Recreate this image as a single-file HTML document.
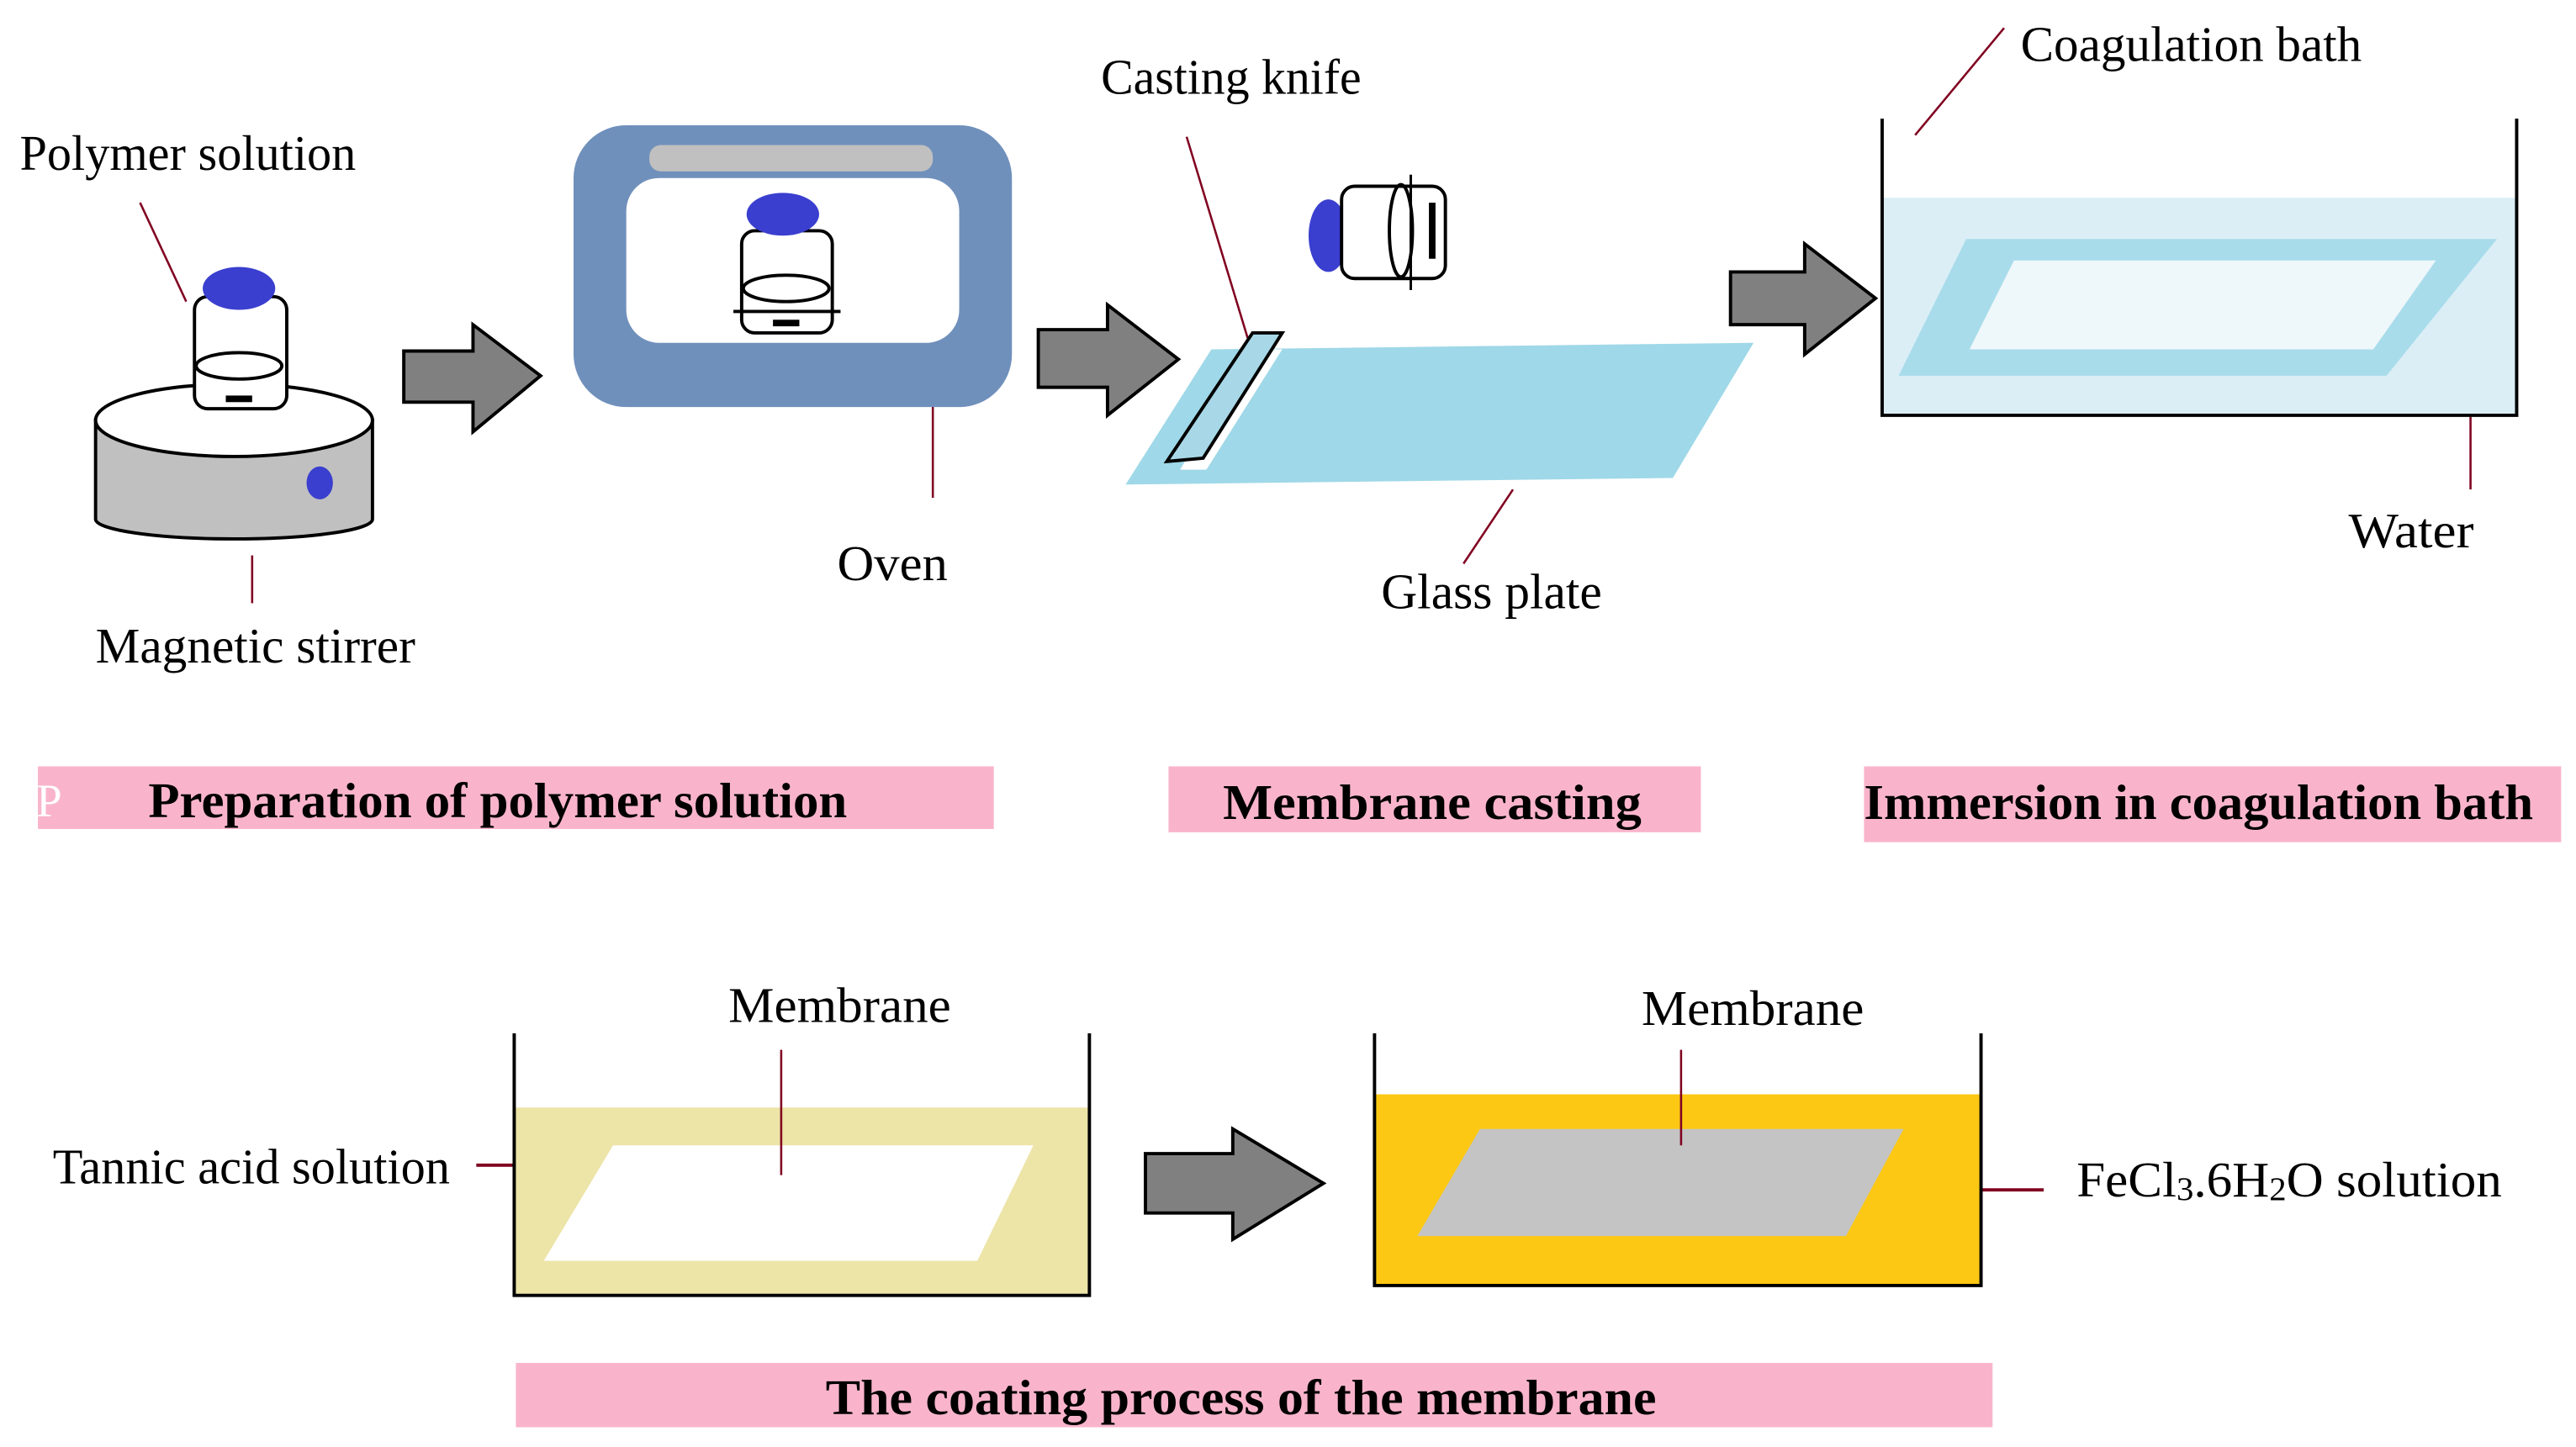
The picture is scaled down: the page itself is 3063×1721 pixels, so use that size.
<!DOCTYPE html>
<html><head><meta charset="utf-8"><style>
html,body{margin:0;padding:0;background:#fff;}
svg{display:block;}
text{font-family:"Liberation Serif",serif;fill:#000;}
.b{font-weight:bold;}
</style></head><body>
<svg width="3063" height="1721" viewBox="0 0 1563 878" preserveAspectRatio="none" xmlns="http://www.w3.org/2000/svg">
<rect width="1563" height="878" fill="#fff"/>
<g font-size="30">
<text x="12" y="103" textLength="204" lengthAdjust="spacingAndGlyphs">Polymer solution</text>
<text x="58" y="402" textLength="194" lengthAdjust="spacingAndGlyphs">Magnetic stirrer</text>
<text x="508" y="352" textLength="67" lengthAdjust="spacingAndGlyphs">Oven</text>
<text x="668" y="57" textLength="158" lengthAdjust="spacingAndGlyphs">Casting knife</text>
<text x="838" y="369" textLength="134" lengthAdjust="spacingAndGlyphs">Glass plate</text>
<text x="1226" y="37" textLength="207" lengthAdjust="spacingAndGlyphs">Coagulation bath</text>
<text x="1425" y="332" textLength="76" lengthAdjust="spacingAndGlyphs">Water</text>
<text x="442" y="620" textLength="135" lengthAdjust="spacingAndGlyphs">Membrane</text>
<text x="996" y="622" textLength="135" lengthAdjust="spacingAndGlyphs">Membrane</text>
<text x="32" y="718" textLength="241" lengthAdjust="spacingAndGlyphs">Tannic acid solution</text>
<text x="1260" y="726" textLength="258" lengthAdjust="spacingAndGlyphs">FeCl<tspan font-size="20" dy="2">3</tspan><tspan dy="-2">.6H</tspan><tspan font-size="20" dy="2">2</tspan><tspan dy="-2">O solution</tspan></text>
</g>
<g stroke="#800020" stroke-width="1.3">
<line x1="85" y1="123" x2="113" y2="183"/>
<line x1="153" y1="337" x2="153" y2="366"/>
<line x1="566" y1="230" x2="566" y2="302"/>
<line x1="720" y1="83" x2="757" y2="205"/>
<line x1="918" y1="297" x2="888" y2="342"/>
<line x1="1216" y1="17" x2="1162" y2="82"/>
<line x1="1499" y1="230" x2="1499" y2="297"/>
<line x1="289" y1="707" x2="331" y2="707" stroke-width="2"/>
<line x1="1183" y1="722" x2="1240" y2="722" stroke-width="2"/>
</g>
<path d="M58 255 L58 315 A84 12 0 0 0 226 315 L226 255 Z" fill="#c0c0c0" stroke="#000" stroke-width="2"/>
<ellipse cx="142" cy="255" rx="84" ry="22" fill="#fff" stroke="#000" stroke-width="2"/>
<ellipse cx="194" cy="293" rx="8" ry="10" fill="#3a3fcf"/>
<rect x="118" y="180" width="56" height="68" rx="8" fill="#fff" stroke="#000" stroke-width="2"/>
<ellipse cx="145" cy="222" rx="26" ry="8" fill="none" stroke="#000" stroke-width="2"/>
<rect x="137" y="240" width="16" height="4" fill="#000"/>
<ellipse cx="145" cy="175" rx="22" ry="13" fill="#3a3fcf"/>
<g fill="#808080" stroke="#000" stroke-width="2">
<path d="M245 213 L287 213 L287 197 L328 228 L287 262 L287 244 L245 244 Z"/>
<path d="M630 200 L672 200 L672 185 L715 218 L672 252 L672 235 L630 235 Z"/>
<path d="M1050 165 L1095 165 L1095 148 L1138 181 L1095 215 L1095 197 L1050 197 Z"/>
<path d="M695 700 L748 700 L748 685 L803 718 L748 752 L748 736 L695 736 Z"/>
</g>
<rect x="348" y="76" width="266" height="171" rx="32" fill="#7090bc"/>
<rect x="380" y="108" width="202" height="100" rx="20" fill="#fff"/>
<rect x="394" y="88" width="172" height="16" rx="7" fill="#c0c0c0"/>
<rect x="450" y="140" width="55" height="62" rx="8" fill="#fff" stroke="#000" stroke-width="2"/>
<ellipse cx="477" cy="175" rx="26" ry="8" fill="none" stroke="#000" stroke-width="2"/>
<line x1="445" y1="189" x2="510" y2="189" stroke="#000" stroke-width="2"/>
<rect x="469" y="194" width="16" height="4" fill="#000"/>
<ellipse cx="475" cy="130" rx="22" ry="13" fill="#3a3fcf"/>
<polygon points="735,212 1064,208 1015,290 683,294" fill="#9fd8e8"/>
<polygon points="760,212 778,212 732,285 716,285" fill="#fff"/>
<polygon points="708,280 760,202 778,202 730,278" fill="#a8d8e8" stroke="#000" stroke-width="2"/>
<ellipse cx="806" cy="143" rx="12" ry="22" fill="#3a3fcf"/>
<rect x="814" y="113" width="63" height="56" rx="8" fill="#fff" stroke="#000" stroke-width="2"/>
<ellipse cx="850" cy="140" rx="7" ry="28" fill="none" stroke="#000" stroke-width="2"/>
<line x1="856" y1="106" x2="856" y2="176" stroke="#000" stroke-width="1.5"/>
<rect x="867" y="123" width="4" height="34" fill="#000"/>
<rect x="1142" y="120" width="385" height="132" fill="#dbeef6"/>
<polygon points="1193,145 1515,145 1448,228 1152,228" fill="#a8dceb"/>
<polygon points="1222,158 1478,158 1440,212 1195,212" fill="#eef7fa"/>
<path d="M1142 72 L1142 252 L1527 252 L1527 72" fill="none" stroke="#000" stroke-width="2"/>
<rect x="23" y="465" width="580" height="38" fill="#f9b4cc"/>
<text x="22" y="495" font-size="28" style="fill:#fff">P</text>
<text x="90" y="496" font-size="30" class="b" textLength="424" lengthAdjust="spacingAndGlyphs">Preparation of polymer solution</text>
<rect x="709" y="465" width="323" height="40" fill="#f9b4cc"/>
<text x="742" y="497" font-size="30" class="b" textLength="254" lengthAdjust="spacingAndGlyphs">Membrane casting</text>
<rect x="1131" y="465" width="423" height="46" fill="#f9b4cc"/>
<text x="1131" y="497" font-size="30" class="b" textLength="406" lengthAdjust="spacingAndGlyphs">Immersion in coagulation bath</text>
<rect x="313" y="827" width="896" height="39" fill="#f9b4cc"/>
<text x="501" y="858" font-size="30" class="b" textLength="504" lengthAdjust="spacingAndGlyphs">The coating process of the membrane</text>
<rect x="312" y="672" width="349" height="114" fill="#ede4a8"/>
<polygon points="372,695 627,695 593,765 330,765" fill="#fff"/>
<path d="M312 627 L312 786 L661 786 L661 627" fill="none" stroke="#000" stroke-width="2"/>
<line x1="474" y1="637" x2="474" y2="713" stroke="#800020" stroke-width="1.3"/>
<rect x="834" y="664" width="368" height="116" fill="#fcc814"/>
<polygon points="898,685 1155,685 1120,750 860,750" fill="#c4c4c4"/>
<path d="M834 627 L834 780 L1202 780 L1202 627" fill="none" stroke="#000" stroke-width="2"/>
<line x1="1020" y1="637" x2="1020" y2="695" stroke="#800020" stroke-width="1.3"/>
</svg>
</body></html>
